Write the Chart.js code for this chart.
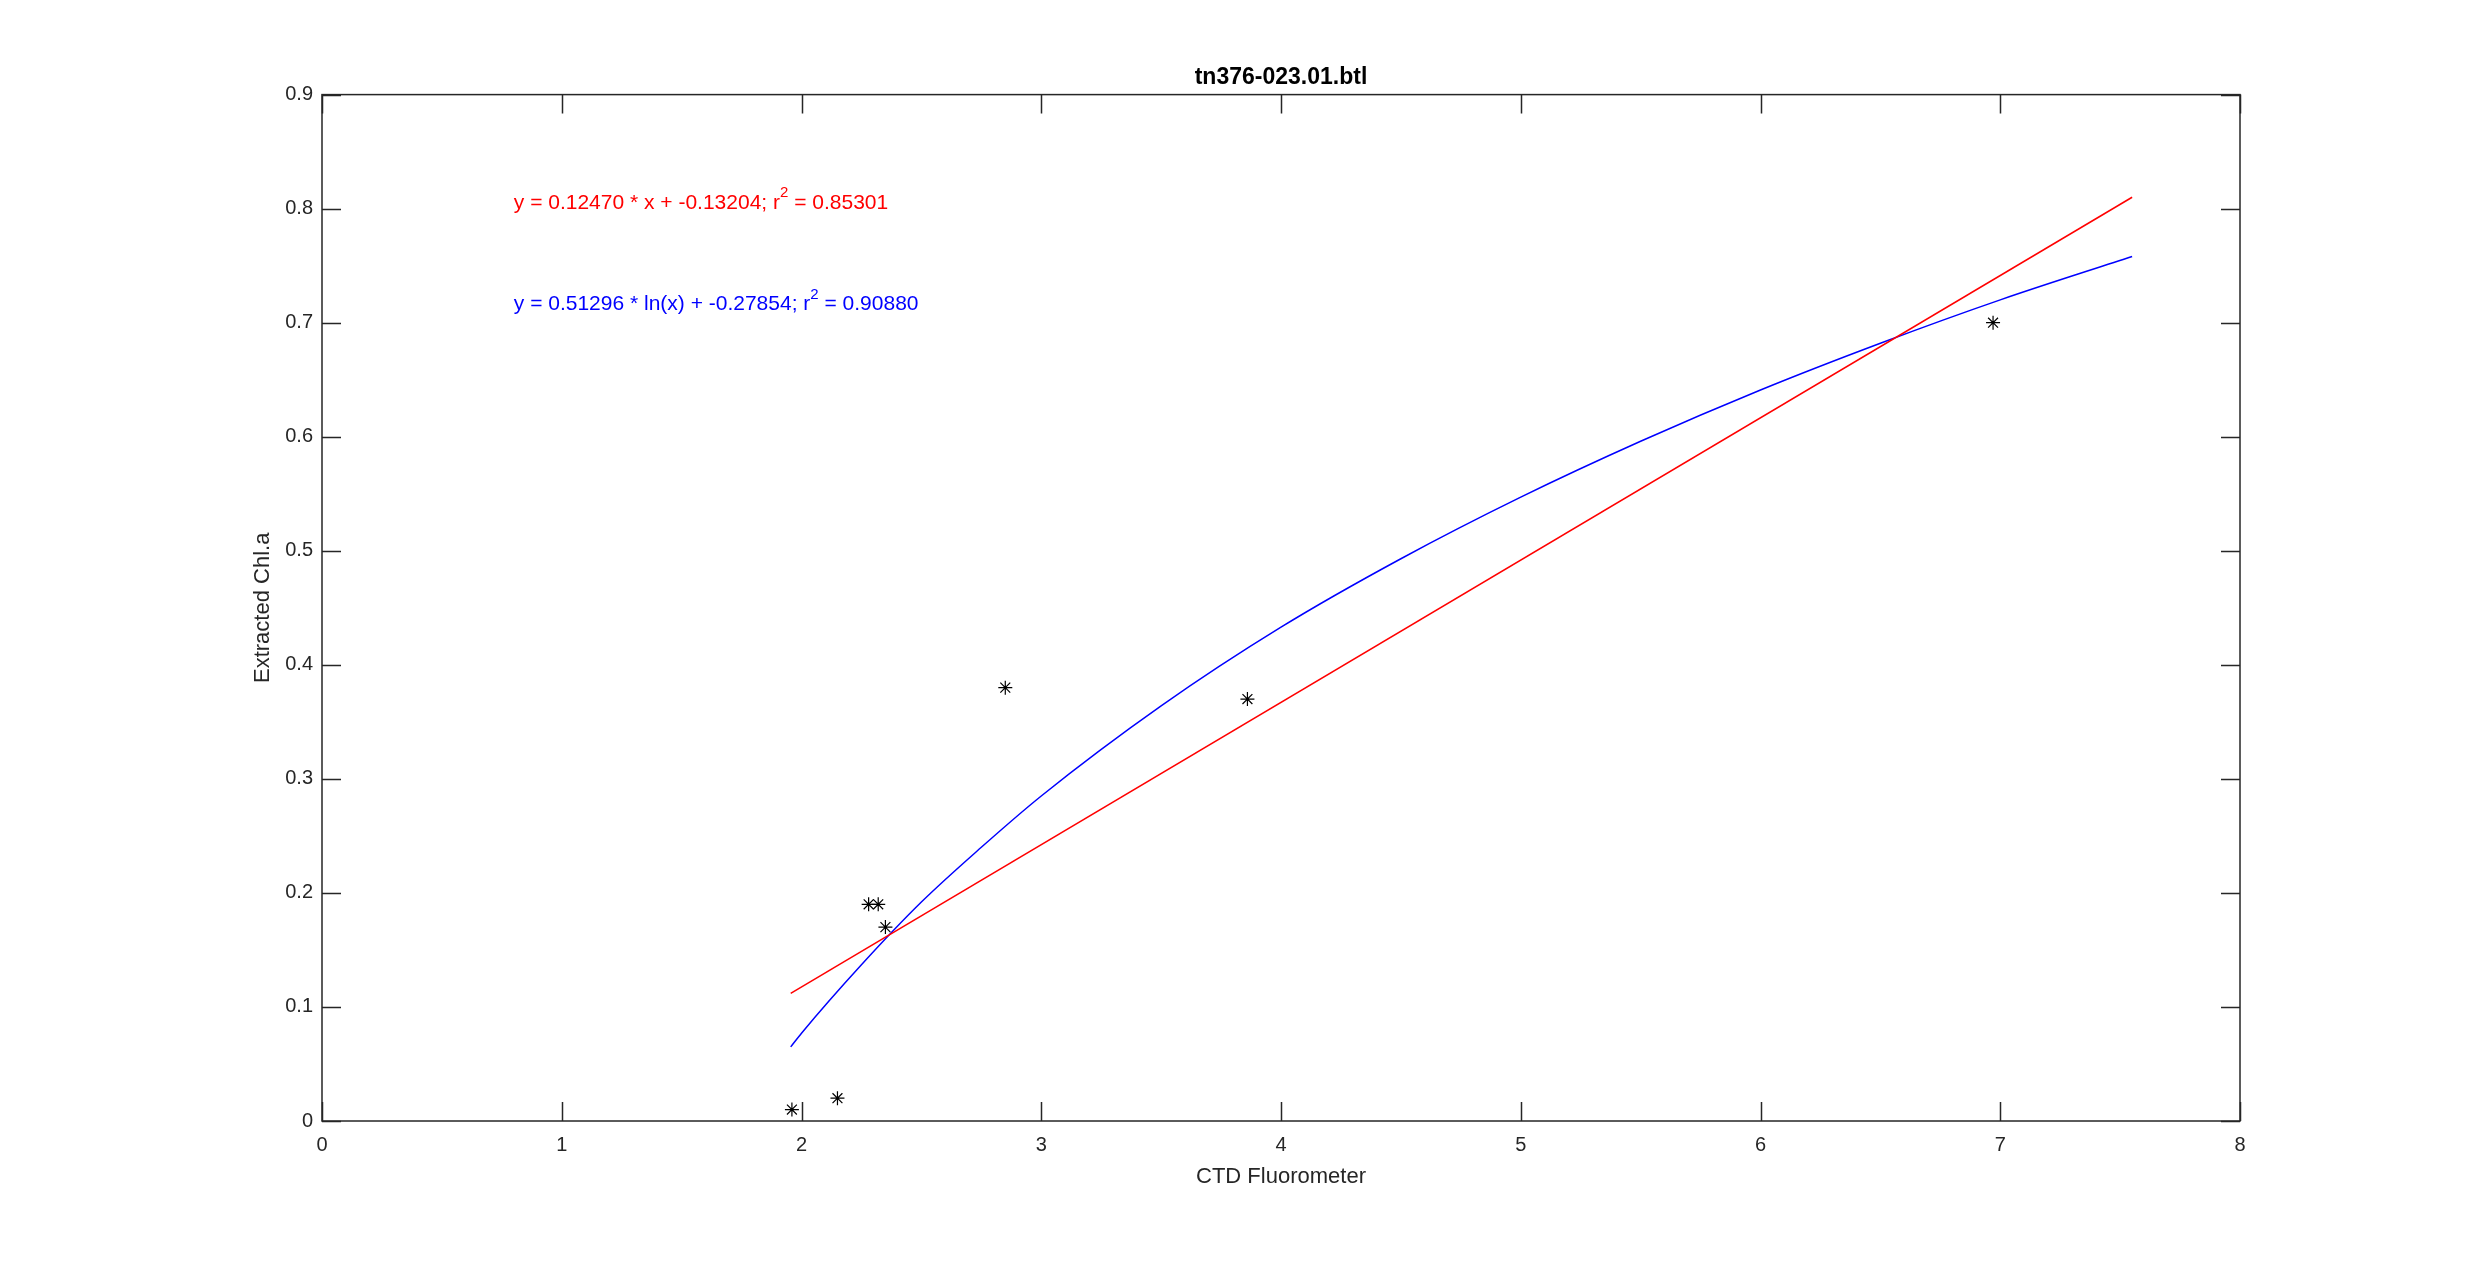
<!DOCTYPE html>
<html>
<head>
<meta charset="utf-8">
<script src="https://cdn.jsdelivr.net/npm/chart.js@4/dist/chart.umd.min.js"></script>
<style>
    html, body { margin: 0; padding: 0; background: #fff; }
    #wrap { width: 2475px; height: 1261px; position: relative; }
</style>
</head>
<body>
<div id="wrap"><canvas id="fitChart"></canvas></div>
<script>
// measured samples (CTD fluorometer vs extracted chl a)
const ctdX = [1.96, 2.15, 2.28, 2.32, 2.35, 2.85, 3.86, 6.97];
const chlY = [0.01, 0.02, 0.19, 0.19, 0.17, 0.38, 0.37, 0.70];

// linear fit line, end points
const linX = [1.955, 7.55];
const linY = [0.112, 0.810];

// log fit curve
const logX = [1.955, 2.0, 2.25, 2.5, 2.75, 3.0, 3.5, 4.0, 4.5, 5.0, 5.5, 6.0, 6.5, 7.0, 7.55];
const logY = [0.065, 0.077, 0.137, 0.192, 0.240, 0.285, 0.364, 0.433, 0.493, 0.547, 0.596, 0.641, 0.682, 0.720, 0.758];

const xTicks = [0, 1, 2, 3, 4, 5, 6, 7, 8];
const yTicks = [0, 0.1, 0.2, 0.3, 0.4, 0.5, 0.6, 0.7, 0.8, 0.9];

const linText = ["y = 0.12470 * x + -0.13204; r", "2", " = 0.85301"];
const logText = ["y = 0.51296 * ln(x) + -0.27854; r", "2", " = 0.90880"];

const FONT = "Arial, 'Liberation Sans', Helvetica, sans-serif";
const AXIS = "#262626";

function pts(xs, ys) {
    return xs.map((x, i) => ({ x, y: ys[i] }));
}

// matlab style box with inward ticks on all four sides
const boxPlugin = {
    id: "box",
    afterDatasetsDraw(chart) {
        const { ctx, chartArea: a, scales } = chart;
        const len = 19;
        ctx.save();
        ctx.strokeStyle = AXIS;
        ctx.lineWidth = 1.5;
        ctx.beginPath();
        xTicks.forEach(v => {
            const px = Math.round(scales.x.getPixelForValue(v)) + 0.5;
            ctx.moveTo(px, a.bottom); ctx.lineTo(px, a.bottom - len);
            ctx.moveTo(px, a.top); ctx.lineTo(px, a.top + len);
        });
        yTicks.forEach(v => {
            const py = Math.round(scales.y.getPixelForValue(v)) + 0.5;
            ctx.moveTo(a.left, py); ctx.lineTo(a.left + len, py);
            ctx.moveTo(a.right, py); ctx.lineTo(a.right - len, py);
        });
        ctx.stroke();
        ctx.strokeRect(a.left, a.top, a.right - a.left, a.bottom - a.top);
        ctx.restore();
    }
};

function drawEq(ctx, parts, x, y, color) {
    ctx.fillStyle = color;
    ctx.textBaseline = "middle";
    ctx.textAlign = "left";
    ctx.font = "21px " + FONT;
    ctx.fillText(parts[0], x, y);
    x += ctx.measureText(parts[0]).width;
    ctx.font = "15px " + FONT;
    ctx.fillText(parts[1], x, y - 10);
    x += ctx.measureText(parts[1]).width;
    ctx.font = "21px " + FONT;
    ctx.fillText(parts[2], x, y);
}

const eqPlugin = {
    id: "equations",
    afterDraw(chart) {
        const { ctx, scales } = chart;
        ctx.save();
        const x0 = scales.x.getPixelForValue(0.8);
        drawEq(ctx, linText, x0, scales.y.getPixelForValue(0.805), "#ff0000");
        drawEq(ctx, logText, x0, scales.y.getPixelForValue(0.716), "#0000ff");
        ctx.restore();
    }
};

new Chart(document.getElementById("fitChart"), {
    type: "scatter",
    data: {
        datasets: [
            {
                label: "data",
                data: pts(ctdX, chlY),
                pointStyle: "star",
                pointRadius: 7,
                borderColor: "#000",
                backgroundColor: "#000",
                borderWidth: 1.2,
                showLine: false
            },
            {
                label: "linear",
                data: pts(linX, linY),
                showLine: true,
                borderColor: "#ff0000",
                borderWidth: 1.5,
                pointRadius: 0,
                fill: false
            },
            {
                label: "log",
                data: pts(logX, logY),
                showLine: true,
                borderColor: "#0000ff",
                borderWidth: 1.5,
                pointRadius: 0,
                cubicInterpolationMode: "monotone",
                fill: false
            }
        ]
    },
    options: {
        responsive: true,
        maintainAspectRatio: false,
        animation: false,
        layout: { padding: { left: 0, right: 235, top: 0, bottom: 0 } },
        plugins: {
            legend: { display: false },
            tooltip: { enabled: false },
            title: {
                display: true,
                text: "tn376-023.01.btl",
                fullSize: false,
                color: "#000",
                font: { family: FONT, size: 23, weight: "bold" },
                padding: { top: 64, bottom: 3 }
            }
        },
        scales: {
            x: {
                type: "linear",
                min: 0,
                max: 8,
                afterFit: s => { s.height = 140; },
                afterBuildTicks: s => { s.ticks = xTicks.map(v => ({ value: v })); },
                grid: { display: false, drawTicks: false },
                border: { display: false },
                ticks: { color: AXIS, padding: 12, font: { family: FONT, size: 20 }, maxRotation: 0 },
                title: {
                    display: true,
                    text: "CTD Fluorometer",
                    color: AXIS,
                    font: { family: FONT, size: 22 },
                    padding: { top: 0, bottom: 71 }
                }
            },
            y: {
                type: "linear",
                min: 0,
                max: 0.9,
                afterFit: s => { s.width = 322; },
                afterBuildTicks: s => { s.ticks = yTicks.map(v => ({ value: v })); },
                grid: { display: false, drawTicks: false },
                border: { display: false },
                ticks: {
                    color: AXIS,
                    padding: 9,
                    font: { family: FONT, size: 20 },
                    callback: v => (v === 0 ? "0" : v.toFixed(1))
                },
                title: {
                    display: true,
                    text: "Extracted Chl.a",
                    color: AXIS,
                    font: { family: FONT, size: 22 },
                    padding: { top: 250, bottom: 0 }
                }
            }
        }
    },
    plugins: [boxPlugin, eqPlugin]
});
</script>
</body>
</html>
